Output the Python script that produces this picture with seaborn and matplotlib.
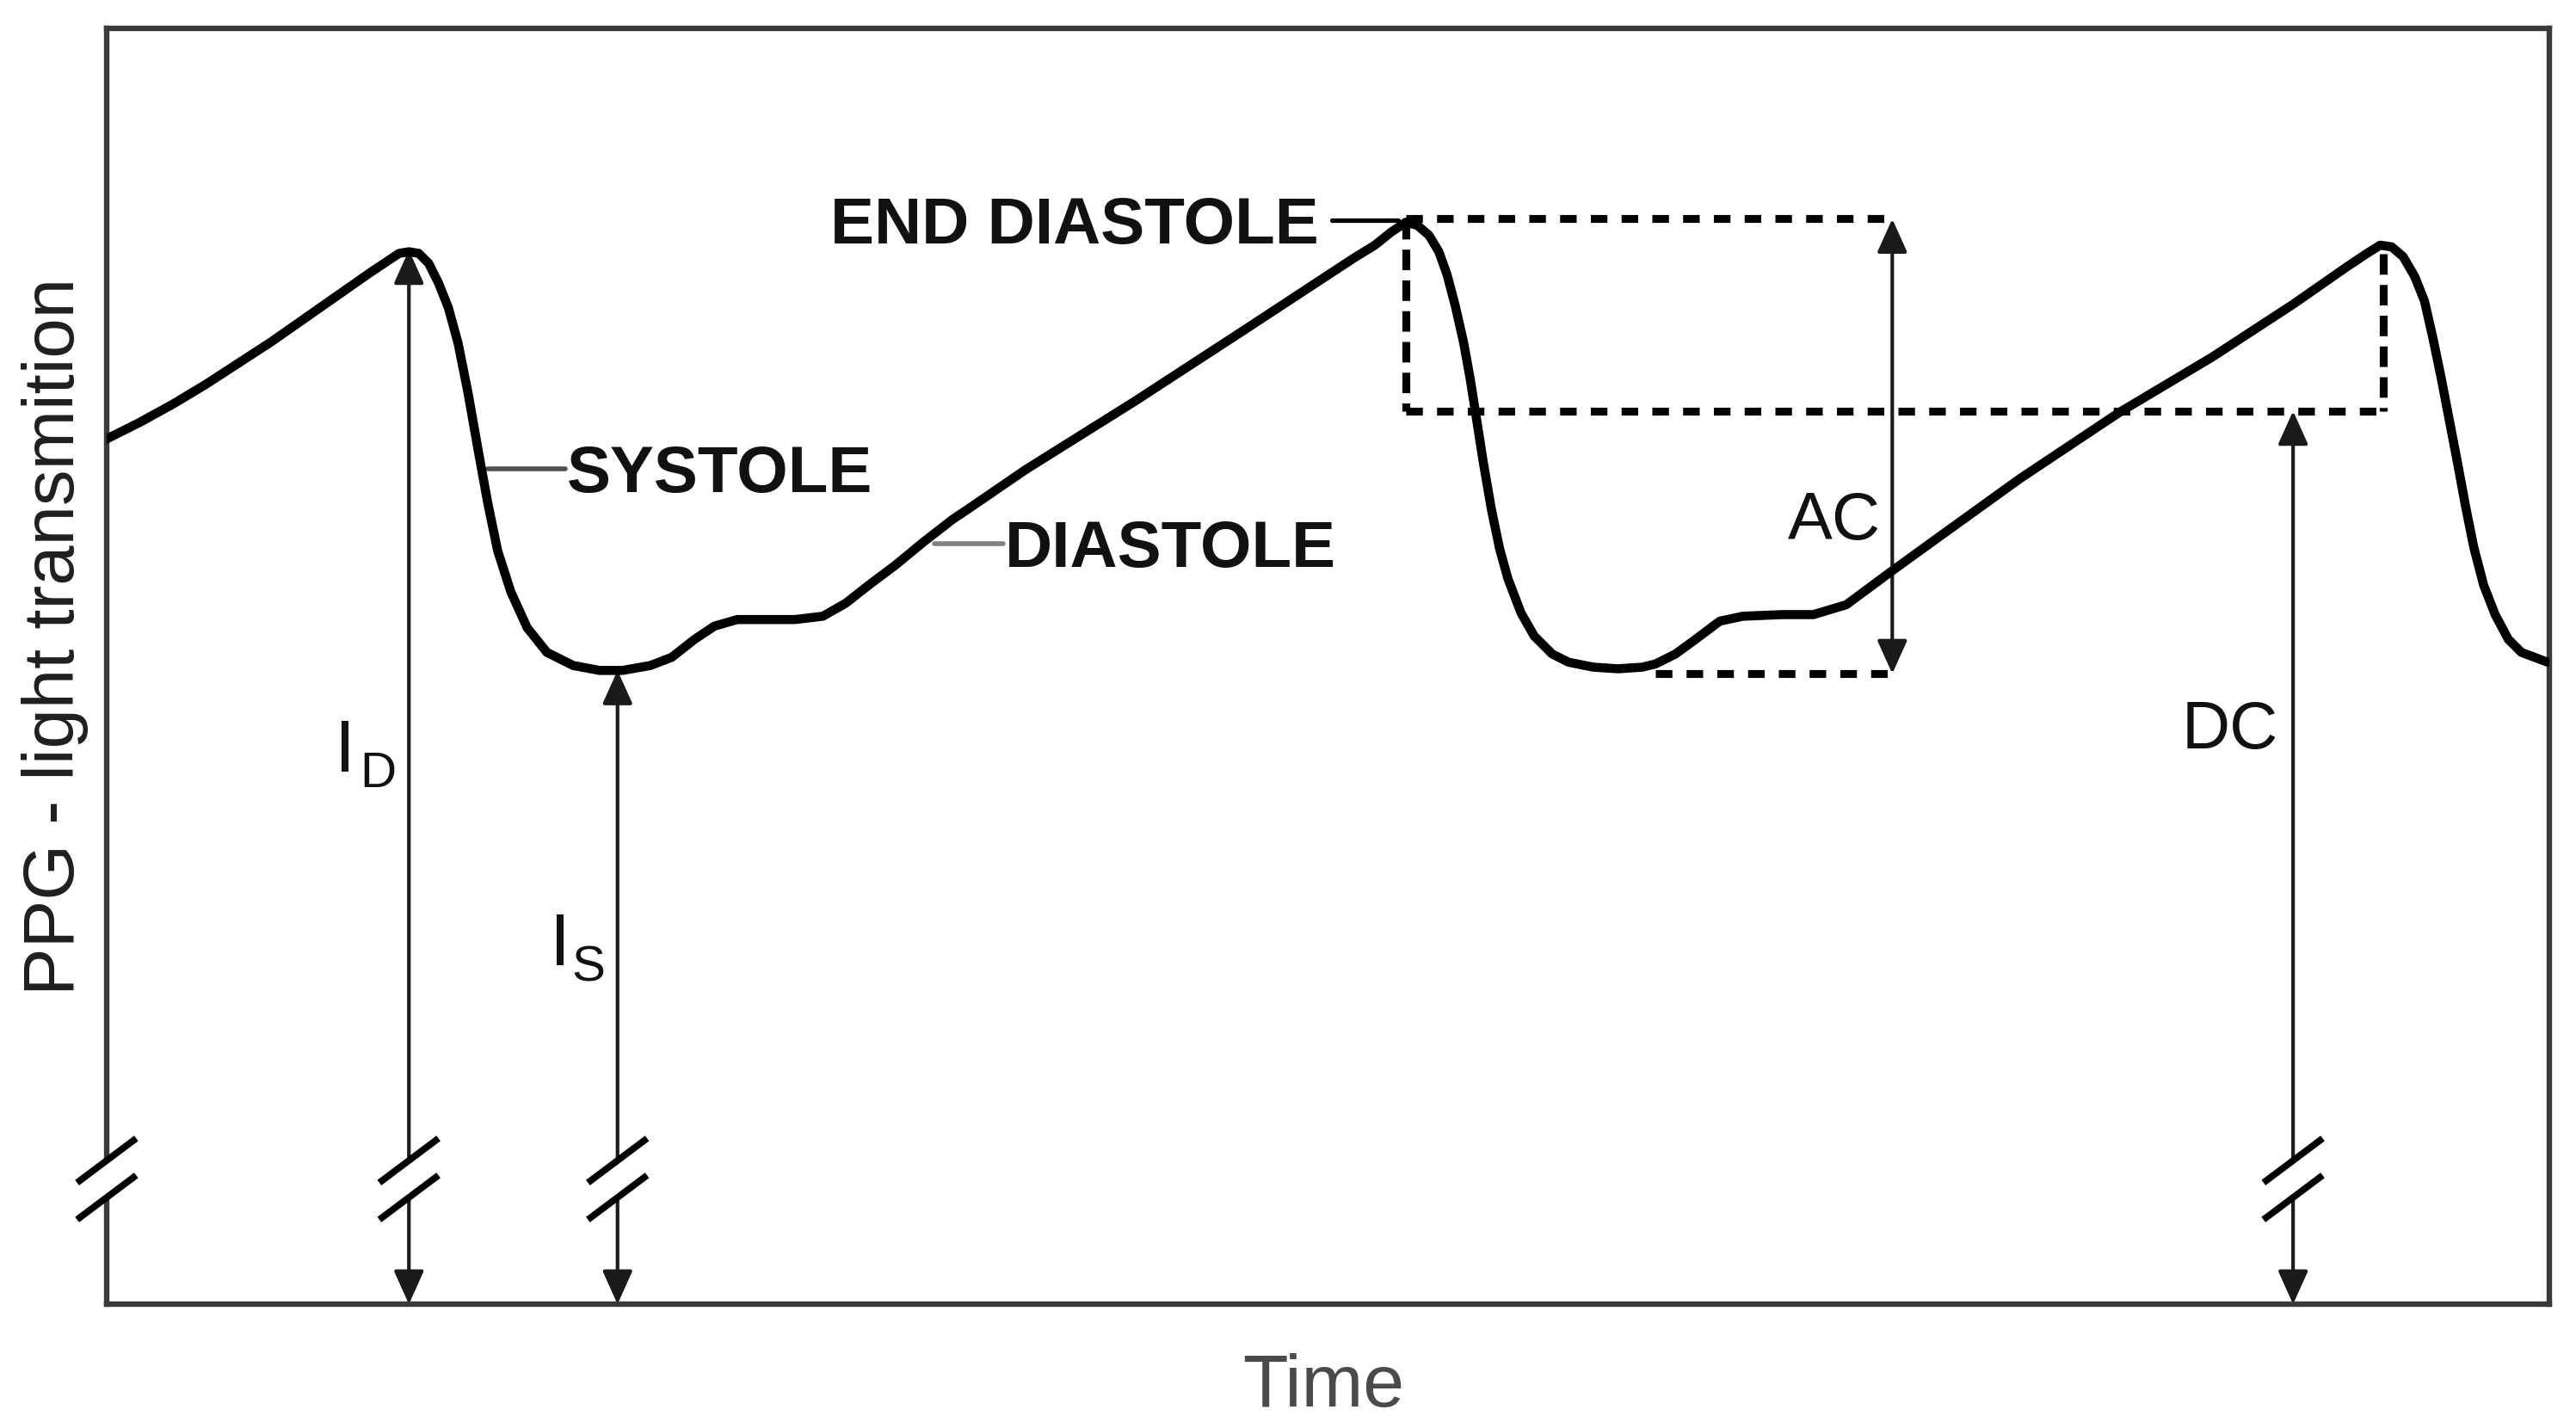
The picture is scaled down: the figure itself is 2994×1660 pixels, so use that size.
import numpy as np
import pandas as pd
import seaborn as sns
import matplotlib.pyplot as plt
from matplotlib.patches import Polygon

# PPG waveform (arbitrary time / transmission units)
# first beat: rise, peak, systolic fall
time1 = [0, 20, 40, 60, 80, 100, 120, 140, 160, 172, 178, 184, 190, 196, 202,
         208, 214, 220, 226, 232, 238, 246, 256, 268, 284, 300, 314]
ppg1 = [527, 537, 548, 560, 573, 586, 600, 614, 628, 636, 640, 641, 640, 634, 622,
        607, 585, 555, 521, 488, 459, 434, 412, 397, 389, 386, 386]
# notch, diastole, end diastole, second fall
time2 = [331, 344, 358, 370, 384, 401, 419, 436, 450, 464, 480, 497, 515, 524, 559,
         626, 692, 759, 772, 782, 791, 798, 805, 811, 816, 821, 826, 830, 833, 838,
         843, 848, 853, 861, 869, 880, 890, 905, 920]
ppg2 = [389, 394, 405, 413, 417, 417, 417, 419, 427, 438, 450, 464, 478, 484, 508,
        550, 593, 637, 645, 653, 659, 657, 651, 641, 627, 608, 586, 564, 545, 513,
        484, 460, 442, 421, 407, 396, 391, 388, 387]
# second notch, rise, third peak and fall
time3 = [935, 943, 955, 966, 982, 996, 1020, 1039, 1059, 1086, 1115, 1165, 1225,
         1282, 1331, 1364, 1376, 1384, 1391, 1398, 1405, 1411, 1416, 1421, 1426,
         1431, 1436, 1441, 1447, 1454, 1462, 1470, 1486]
ppg3 = [388, 390, 396, 404, 416, 419, 420, 420, 426, 446, 467, 503, 543,
        577, 609, 632, 640, 645, 644, 638, 626, 611, 589, 565, 539,
        513, 486, 461, 438, 420, 405, 397, 391]

# diagram levels
end_diastole = (791, 661)
third_peak = (1386, 640)
dc_level = 544
ac_x, ac_low, ac_from = 1087, 384, 943
dc_x = 1331
id_x, id_top = 184, 642
is_x, is_top = 311, 386
break_lo, break_hi = 65, 87.5

sns.set_theme(style="white")
plt.rcParams["font.family"] = ["Liberation Sans", "DejaVu Sans"]

fig = plt.figure(figsize=(14.97, 8.3), dpi=200)
ax = fig.add_axes([0.0414, 0.0867, 0.94825, 0.89337])

df = pd.DataFrame({"time": time1 + time2 + time3, "ppg": ppg1 + ppg2 + ppg3})
sns.lineplot(data=df, x="time", y="ppg", sort=False, estimator=None, color="black",
             lw=3.8, ax=ax, solid_joinstyle="round", solid_capstyle="round", zorder=4)

ax.set_xlim(0, 1487)
ax.set_ylim(0, 777)
ax.set_xticks([])
ax.set_yticks([])
ax.set_xlabel("")
ax.set_ylabel("")
for sp in ax.spines.values():
    sp.set_visible(True)
    sp.set_color("#3a3a3a")
    sp.set_linewidth(2.3)

# dashed AC / DC construction
hdash = (0, (2.1, 1.8))
vdash = (0, (2.6, 1.3))
dkw = dict(color="black", lw=3.3, zorder=3)
ax.plot([end_diastole[0], ac_x], [end_diastole[1], end_diastole[1]], ls=hdash, **dkw)
ax.plot([end_diastole[0], end_diastole[0]], [end_diastole[1], dc_level], ls=vdash, **dkw)
ax.plot([end_diastole[0], third_peak[0]], [dc_level, dc_level], ls=hdash, **dkw)
ax.plot([third_peak[0], third_peak[0]], [third_peak[1], dc_level], ls=vdash, **dkw)
ax.plot([ac_from, ac_x], [ac_low, ac_low], ls=hdash, **dkw)

# double arrows
akw = dict(arrowstyle="<|-|>,head_length=0.6,head_width=0.27", lw=1.5,
           color="#1a1a1a", shrinkA=0, shrinkB=0, mutation_scale=20)
for x, y0, y1 in [(ac_x, ac_low, end_diastole[1]), (dc_x, 0, dc_level),
                  (id_x, 0, id_top), (is_x, 0, is_top)]:
    ax.annotate("", xy=(x, y0), xytext=(x, y1), arrowprops=akw, zorder=3)

# axis breaks
dx, dy = 18, 13.5
for bx in [0, id_x, is_x, dc_x]:
    mask = Polygon([(bx - dx, break_hi - dy), (bx + dx, break_hi + dy),
                    (bx + dx, break_lo + dy), (bx - dx, break_lo - dy)],
                   closed=True, facecolor="white", edgecolor="none",
                   zorder=5, clip_on=False)
    ax.add_patch(mask)
    for by in [break_lo, break_hi]:
        ax.plot([bx - dx, bx + dx], [by - dy, by + dy], color="black", lw=2.8,
                zorder=6, clip_on=False, solid_capstyle="butt")

# labels with leader lines
ax.plot([746, 786], [end_diastole[1] - 1, end_diastole[1] - 1], color="black", lw=1.9)
ax.text(738, 645.8, "END DIASTOLE", ha="right", va="baseline", fontsize=27.5,
        fontweight="bold", color="#111111")
ax.plot([232, 279], [509, 509], color="#505050", lw=2.0)
ax.text(280, 494.4, "SYSTOLE", ha="left", va="baseline", fontsize=27.5,
        fontweight="bold", color="#111111")
ax.plot([504, 546], [463, 463], color="#808080", lw=2.0)
ax.text(547, 449, "DIASTOLE", ha="left", va="baseline", fontsize=27.5,
        fontweight="bold", color="#111111")

ax.text(1080, 465.6, "AC", ha="right", va="baseline", fontsize=28, color="#111111")
ax.text(1322, 338.4, "DC", ha="right", va="baseline", fontsize=28, color="#111111")

ax.text(139, 324.2, "I", ha="left", va="baseline", fontsize=31, color="#111111")
ax.text(154, 314.8, "D", ha="left", va="baseline", fontsize=21, color="#111111")
ax.text(270, 206.4, "I", ha="left", va="baseline", fontsize=31, color="#111111")
ax.text(283, 197, "S", ha="left", va="baseline", fontsize=21, color="#111111")

fig.text(0.0344, 0.554, "PPG - light transmition", rotation=90, ha="right",
         va="center", fontsize=30, color="#1f1f1f")
fig.text(0.5139, 0.01506, "Time", ha="center", va="baseline", fontsize=31,
         color="#4a4a4a")

fig.savefig("out.png", dpi=200)
